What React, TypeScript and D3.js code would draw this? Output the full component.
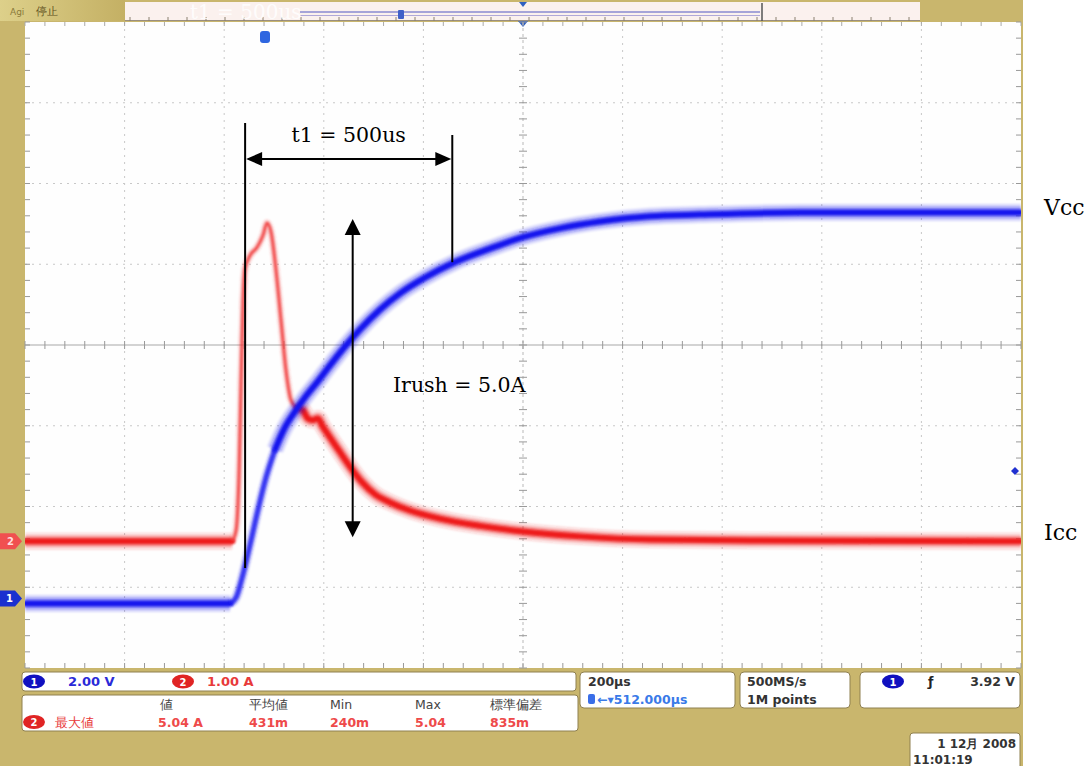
import React from 'react';
import * as d3 from 'd3';

// ---- Data (time in µs, relative to trigger/centre of screen) ----
const vccTime = [-1000, -588, -576, -564, -548, -532, -516, -498, -478, -458, -438, -412, -388, -357, -327, -287, -247, -197, -137, -66, 0, 74, 155, 255, 355, 556, 757, 1000];
const vccVolts = [0, 0, 0.15, 0.64, 1.46, 2.33, 3.12, 3.81, 4.36, 4.75, 5.1, 5.5, 5.89, 6.37, 6.79, 7.28, 7.68, 8.07, 8.45, 8.79, 9.07, 9.29, 9.46, 9.59, 9.63, 9.68, 9.68, 9.68];

const iccTime = [-1000, -584, -576, -570, -566, -562, -558, -548, -534, -522, -514, -506, -496, -486, -476, -466, -454, -442, -432, -422, -412, -402, -388, -367, -347, -323, -297, -267, -227, -167, -86, 0, 114, 255, 456, 1000];
const iccAmps = [0, 0, 0.14, 0.88, 1.99, 2.98, 3.38, 3.54, 3.64, 3.79, 3.94, 3.83, 3.36, 2.74, 2.12, 1.75, 1.65, 1.62, 1.52, 1.5, 1.52, 1.42, 1.29, 1.1, 0.92, 0.73, 0.58, 0.48, 0.38, 0.28, 0.19, 0.12, 0.06, 0.02, 0.01, 0];

// Fast-transient windows (drawn as thin persistence traces)
const vccFastWindow = [-586, -498];
const iccFastWindow = [-582, -454];

// Scope settings
const timeDomain = [-1000, 1000]; // 200 µs/div x 10 div
const divDomain = [-4, 4];
const ch1VoltsPerDiv = 2.0;
const ch2AmpsPerDiv = 1.0;
const ch1OffsetDiv = -3.2;
const ch2OffsetDiv = -2.43;

// Annotation values
const t1Label = 't1 = 500us';
const irushLabel = 'Irush = 5.0A';
const t1Start = -558;
const t1End = -142;
const irushTime = -342;

// Status bar texts
const scaleLabels = ['2.00 V', '1.00 A'];
const measHeaders = ['値', '平均値', 'Min', 'Max', '標準偏差'];
const measValues = ['5.04 A', '431m', '240m', '5.04', '835m'];
const measName = '最大値';

const W = 1089;
const H = 766;
const PL = 25, PR = 1021, PT = 22, PB = 668;
const KHAKI = '#c9b66d';
const SANS = '"DejaVu Sans", sans-serif';
const SERIF = '"DejaVu Serif", serif';

export default function App() {
  const x = d3.scaleLinear().domain(timeDomain).range([PL, PR]);
  const yDiv = d3.scaleLinear().domain(divDomain).range([PB, PT]);
  const yV = (v: number) => yDiv(ch1OffsetDiv + v / ch1VoltsPerDiv);
  const yA = (a: number) => yDiv(ch2OffsetDiv + a / ch2AmpsPerDiv);

  const line = d3.line<[number, number]>().x(d => d[0]).y(d => d[1]).curve(d3.curveMonotoneX);

  function split(times: number[], vals: number[], win: number[], fy: (v: number) => number) {
    const pts: [number, number, number][] = times.map((t, i) => [x(t), fy(vals[i]), t]);
    const toXY = (a: [number, number, number][]) => a.map(p => [p[0], p[1]] as [number, number]);
    const before = pts.filter(p => p[2] <= win[0]);
    const after = pts.filter(p => p[2] >= win[1]);
    const fast = [before[before.length - 1], ...pts.filter(p => p[2] > win[0] && p[2] <= win[1])];
    return { slow: [toXY(before), toXY(after)], fast: toXY(fast) };
  }

  const blue = split(vccTime, vccVolts, vccFastWindow, yV);
  const red = split(iccTime, iccAmps, iccFastWindow, yA);

  const xDivs = d3.range(0, 11);
  const yDivs = d3.range(0, 9);
  const divW = (PR - PL) / 10;
  const divH = (PB - PT) / 8;
  const cx = x(0);
  const cy = yDiv(0);
  const minorX = d3.range(0, 51).map(i => PL + (i * divW) / 5);
  const minorY = d3.range(0, 41).map(i => PT + (i * divH) / 5);

  const thick = (d: string, color: string, key: string) => (
    <g key={key} filter="url(#soft)">
      <path d={d} fill="none" stroke={color} strokeOpacity={0.16} strokeWidth={17} />
      <path d={d} fill="none" stroke={color} strokeOpacity={0.35} strokeWidth={11} />
      <path d={d} fill="none" stroke={color} strokeWidth={6} strokeLinecap="round" />
    </g>
  );
  const thin = (d: string, color: string, key: string, w: number) => (
    <g key={key} filter="url(#soft)">
      <path d={d} fill="none" stroke={color} strokeOpacity={0.25} strokeWidth={w + 4} />
      <path d={d} fill="none" stroke={color} strokeOpacity={0.85} strokeWidth={w} />
    </g>
  );

  const t1y = 159;
  const arrowH = (x0: number, y0: number, dir: number) =>
    `M${x0},${y0} L${x0 + dir * 16},${y0 - 7} L${x0 + dir * 16},${y0 + 7} Z`;
  const arrowV = (x0: number, y0: number, dir: number) =>
    `M${x0},${y0} L${x0 - 8},${y0 + dir * 16} L${x0 + 8},${y0 + dir * 16} Z`;

  const xa = x(t1Start);
  const xb = x(t1End);
  const xi = x(irushTime);
  const yTop = yA(3.99);
  const yBot = yA(0.05);

  return (
    <svg width={W} height={H} style={{ position: 'fixed', left: 0, top: 0, background: '#fff' }}>
      <defs>
        <filter id="soft" filterUnits="userSpaceOnUse" x={0} y={0} width={W} height={H}>
          <feGaussianBlur stdDeviation="1.1" />
        </filter>
        <clipPath id="plotClip">
          <rect x={PL} y={PT} width={PR - PL} height={PB - PT} />
        </clipPath>
        <linearGradient id="tl" x1="0" x2="1" y1="0" y2="0">
          <stop offset="0" stopColor="#ddd08a" />
          <stop offset="1" stopColor="#c4b064" />
        </linearGradient>
      </defs>
      {/* frame */}
      <rect x={0} y={0} width={1023} height={H} fill={KHAKI} />
      <rect x={PL} y={PT} width={PR - PL} height={PB - PT} fill="#fefefe" />

      {/* top bar */}
      <rect x={0} y={0} width={125} height={21} fill="url(#tl)" />
      <text x={10} y={15} fontFamily={SANS} fontSize={9} fill="#8a7a3a">Agi</text>
      <text x={36} y={15} fontFamily={SANS} fontSize={11} fill="#5e5020">停止</text>
      <rect x={125} y={2} width={795} height={19} fill="#fbf1ee" />
      <line x1={125} x2={920} y1={20.5} y2={20.5} stroke="#9a8f80" strokeWidth={1} />
      {d3.range(130, 920, 19).map(v => (
        <line key={'tb' + v} x1={v} x2={v} y1={17} y2={21} stroke="#8a8070" strokeWidth={1} />
      ))}
      <line x1={300} x2={760} y1={12} y2={12} stroke="#8a8ad0" strokeWidth={1.5} />
      <line x1={300} x2={760} y1={15.5} y2={15.5} stroke="#b0a8d8" strokeWidth={1} />
      <line x1={762} x2={762} y1={3} y2={21} stroke="#555" strokeWidth={1.5} />
      <rect x={398} y={10} width={6} height={9} fill="#4060c8" rx={1} />
      <path d={`M${cx - 4},2 L${cx + 4},2 L${cx},7 Z`} fill="#3060c0" />
      <path d={`M${cx - 5},21 L${cx + 5},21 L${cx},27 Z`} fill="#3060c0" />
      <text x={190} y={19} fontFamily={SERIF} fontSize={20} fill="#ffffff" fillOpacity={0.85}>{t1Label}</text>

      {/* grid */}
      {xDivs.filter(i => i !== 0 && i !== 10 && i !== 5).map(i => (
        <line key={'gx' + i} x1={PL + i * divW} x2={PL + i * divW} y1={PT} y2={PB} stroke="#c8c8c8" strokeWidth={1} strokeDasharray="2 5" />
      ))}
      {yDivs.filter(i => i !== 0 && i !== 8 && i !== 4).map(i => (
        <line key={'gy' + i} x1={PL} x2={PR} y1={PT + i * divH} y2={PT + i * divH} stroke="#c8c8c8" strokeWidth={1} strokeDasharray="2 5" />
      ))}
      <line x1={PL} x2={PR} y1={cy} y2={cy} stroke="#a8a8a8" strokeWidth={1} />
      <line x1={cx} x2={cx} y1={PT} y2={PB} stroke="#b8b8b8" strokeWidth={1} strokeDasharray="3 3" />
      {minorX.map((v, i) => (
        <g key={'mx' + i}>
          <line x1={v} x2={v} y1={cy - 4} y2={cy + 4} stroke="#999" strokeWidth={1} />
          <line x1={v} x2={v} y1={PB - 5} y2={PB} stroke="#999" strokeWidth={1} />
          <line x1={v} x2={v} y1={PT} y2={PT + 4} stroke="#aaa" strokeWidth={1} />
        </g>
      ))}
      {minorY.map((v, i) => (
        <g key={'my' + i}>
          <line x1={cx - 4} x2={cx + 4} y1={v} y2={v} stroke="#999" strokeWidth={1} />
          <line x1={PL} x2={PL + 5} y1={v} y2={v} stroke="#999" strokeWidth={1} />
          <line x1={PR - 5} x2={PR} y1={v} y2={v} stroke="#999" strokeWidth={1} />
        </g>
      ))}

      {/* traces */}
      <g clipPath="url(#plotClip)">
        {red.slow.map((s, i) => thick(line(s) || '', '#ee1c1c', 'rs' + i))}
        {thin(line(red.fast) || '', '#f03a3a', 'rf', 3)}
        {blue.slow.map((s, i) => thick(line(s) || '', '#1818ee', 'bs' + i))}
        {thin(line(blue.fast) || '', '#1f1ff0', 'bf', 5)}
      </g>

      {/* markers */}
      <rect x={260} y={31} width={10} height={12} rx={3} fill="#2f66e0" />
      <path d={`M0,${yA(0) - 8} L15,${yA(0) - 8} L22,${yA(0)} L15,${yA(0) + 8} L0,${yA(0) + 8} Z`} fill="#f05050" />
      <text x={7} y={yA(0) + 4} fontFamily={SANS} fontSize={10} fontWeight="bold" fill="#ffdede">2</text>
      <path d={`M0,${yV(0) - 13} L15,${yV(0) - 13} L22,${yV(0) - 5} L15,${yV(0) + 3} L0,${yV(0) + 3} Z`} fill="#1a30d0" />
      <text x={6} y={yV(0) - 1} fontFamily={SANS} fontSize={10} fontWeight="bold" fill="#fff">1</text>
      <path d={`M1011,471 L1015,467 L1019,471 L1015,475 Z`} fill="#2030d0" />

      {/* annotations */}
      <g stroke="#000" strokeWidth={2} fill="#000">
        <line x1={xa} x2={xa} y1={123} y2={568} />
        <line x1={xb} x2={xb} y1={135} y2={yV(8.45)} />
        <line x1={xa + 10} x2={xb - 10} y1={t1y} y2={t1y} />
        <path d={arrowH(xa + 1, t1y, 1)} stroke="none" />
        <path d={arrowH(xb - 1, t1y, -1)} stroke="none" />
        <line x1={xi} x2={xi} y1={yTop + 10} y2={yBot - 10} />
        <path d={arrowV(xi, yTop, 1)} stroke="none" />
        <path d={arrowV(xi, yBot, -1)} stroke="none" />
      </g>
      <text x={(xa + xb) / 2} y={142} textAnchor="middle" fontFamily={SERIF} fontSize={20.5} fill="#000">{t1Label}</text>
      <text x={393} y={392} fontFamily={SERIF} fontSize={20.5} fill="#000">{irushLabel}</text>
      <text x={1044} y={215} fontFamily={SERIF} fontSize={22} fill="#000">Vcc</text>
      <text x={1044} y={540} fontFamily={SERIF} fontSize={22} fill="#000">Icc</text>

      {/* status area */}
      <rect x={22} y={672} width={554} height={19} rx={3} fill="#fff" stroke="#8f8050" />
      <ellipse cx={34} cy={681.5} rx={11} ry={7} fill="#1010c0" />
      <text x={34} y={685.5} textAnchor="middle" fontFamily={SANS} fontSize={10} fontWeight="bold" fill="#fff">1</text>
      <text x={68} y={686} fontFamily={SANS} fontSize={13} fontWeight="bold" fill="#2a2ad8">{scaleLabels[0]}</text>
      <ellipse cx={183} cy={681.5} rx={11} ry={7} fill="#e02424" />
      <text x={183} y={685.5} textAnchor="middle" fontFamily={SANS} fontSize={10} fontWeight="bold" fill="#fff">2</text>
      <text x={207} y={686} fontFamily={SANS} fontSize={13} fontWeight="bold" fill="#e83a3a">{scaleLabels[1]}</text>

      <rect x={22} y={695} width={556} height={36} rx={3} fill="#fff" stroke="#8f8050" />
      {measHeaders.map((h, i) => (
        <text key={'mh' + i} x={[160, 249, 330, 415, 490][i]} y={709} fontFamily={SANS} fontSize={12.5} fill="#444">{h}</text>
      ))}
      <ellipse cx={34} cy={722} rx={11} ry={7} fill="#e02424" />
      <text x={34} y={726} textAnchor="middle" fontFamily={SANS} fontSize={10} fontWeight="bold" fill="#fff">2</text>
      <text x={55} y={727} fontFamily={SANS} fontSize={12.5} fill="#e83a3a">{measName}</text>
      {measValues.map((v, i) => (
        <text key={'mv' + i} x={[158, 249, 330, 415, 490][i]} y={727} fontFamily={SANS} fontSize={12.5} fontWeight="bold" fill="#ee4a4a">{v}</text>
      ))}

      <rect x={580} y={672} width={155} height={36} rx={4} fill="#fff" stroke="#8f8050" />
      <text x={588} y={686} fontFamily={SANS} fontSize={12.5} fontWeight="bold" fill="#333">200μs</text>
      <rect x={588} y={694} width={7} height={10} rx={2} fill="#3a6ee8" />
      <text x={597} y={704} fontFamily={SANS} fontSize={12.5} fontWeight="bold" fill="#3a7ae8">←▾512.000μs</text>

      <rect x={740} y={672} width={110} height={36} rx={4} fill="#fff" stroke="#8f8050" />
      <text x={747} y={686} fontFamily={SANS} fontSize={12.5} fontWeight="bold" fill="#333">500MS/s</text>
      <text x={747} y={704} fontFamily={SANS} fontSize={12.5} fontWeight="bold" fill="#333">1M points</text>

      <rect x={860} y={672} width={160} height={36} rx={4} fill="#fff" stroke="#8f8050" />
      <ellipse cx={893} cy={681.5} rx={11} ry={7} fill="#1010c0" />
      <text x={893} y={685.5} textAnchor="middle" fontFamily={SANS} fontSize={10} fontWeight="bold" fill="#fff">1</text>
      <text x={928} y={686} fontFamily={SANS} fontSize={12.5} fontWeight="bold" fill="#222">ƒ</text>
      <text x={1015} y={686} textAnchor="end" fontFamily={SANS} fontSize={12.5} fontWeight="bold" fill="#333">3.92 V</text>

      <rect x={910} y={733} width={110} height={40} rx={3} fill="#fff" stroke="#8f8050" />
      <text x={1016} y={748} textAnchor="end" fontFamily={SANS} fontSize={12} fontWeight="bold" fill="#333">1 12月 2008</text>
      <text x={913} y={764} fontFamily={SANS} fontSize={12} fontWeight="bold" fill="#333">11:01:19</text>
    </svg>
  );
}
